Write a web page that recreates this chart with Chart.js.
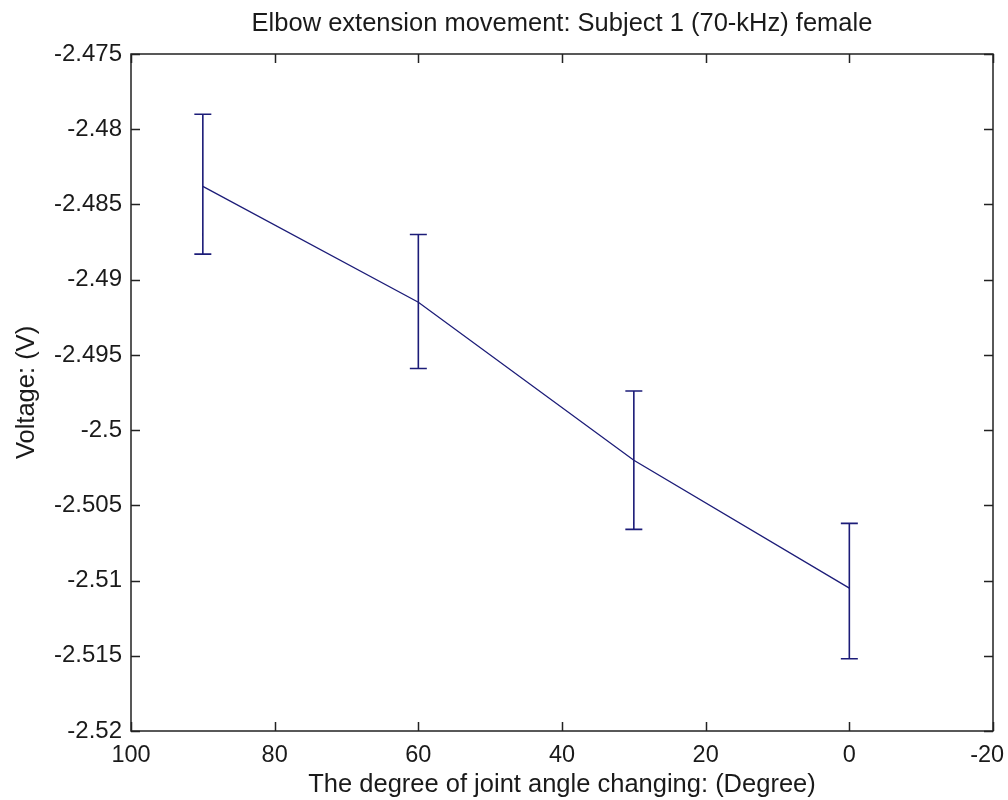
<!DOCTYPE html>
<html>
<head>
<meta charset="utf-8">
<script src="https://cdn.jsdelivr.net/npm/chart.js@4.4.0/dist/chart.umd.min.js"></script>
<style>
  body { margin: 0; background: #fff; }
  #wrap { width: 1008px; height: 800px; }
</style>
</head>
<body>
<div id="wrap"><canvas id="my-graph" width="1008" height="800"></canvas></div>
<script>
// joint angle (degree) and measured voltage
const angles = [90, 60, 30, 0];
const voltage_mean = [-2.4838, -2.4915, -2.5020, -2.5105];
const voltage_low = [-2.4883, -2.4959, -2.5066, -2.5152];
const voltage_high = [-2.4790, -2.4870, -2.4974, -2.5062];

const x_min = -20, x_max = 100, x_step = 20;
const y_min = -2.52, y_max = -2.475, y_step = 0.005;

const line_color = "#1c1c78";
const text_color = "#1a1a1a";
const font_family = "'Liberation Sans', Arial, sans-serif";

// matlab style box with ticks pointing inside
const box_plugin = {
    id: "box",
    afterDraw(chart) {
        const ctx = chart.ctx;
        const a = chart.chartArea;
        const xs = chart.scales.x;
        const ys = chart.scales.y;
        const tl = 9;
        ctx.save();
        ctx.strokeStyle = "#222";
        ctx.lineWidth = 1.5;
        ctx.strokeRect(a.left, a.top, a.right - a.left, a.bottom - a.top);
        ctx.beginPath();
        xs.ticks.forEach(t => {
            const px = Math.round(xs.getPixelForValue(t.value)) + 0.5;
            ctx.moveTo(px, a.bottom); ctx.lineTo(px, a.bottom - tl);
            ctx.moveTo(px, a.top); ctx.lineTo(px, a.top + tl);
        });
        ys.ticks.forEach(t => {
            const py = Math.round(ys.getPixelForValue(t.value)) + 0.5;
            ctx.moveTo(a.left, py); ctx.lineTo(a.left + tl, py);
            ctx.moveTo(a.right, py); ctx.lineTo(a.right - tl, py);
        });
        ctx.stroke();
        ctx.restore();
    }
};

// vertical error bars with caps
const errorbar_plugin = {
    id: "errorbars",
    afterDatasetsDraw(chart) {
        const ctx = chart.ctx;
        const xs = chart.scales.x;
        const ys = chart.scales.y;
        const cap = 8.5;
        ctx.save();
        ctx.strokeStyle = line_color;
        ctx.lineWidth = 1.6;
        ctx.beginPath();
        angles.forEach((ang, i) => {
            const px = xs.getPixelForValue(ang);
            const y_lo = ys.getPixelForValue(voltage_low[i]);
            const y_hi = ys.getPixelForValue(voltage_high[i]);
            ctx.moveTo(px, y_lo); ctx.lineTo(px, y_hi);
            ctx.moveTo(px - cap, y_lo); ctx.lineTo(px + cap, y_lo);
            ctx.moveTo(px - cap, y_hi); ctx.lineTo(px + cap, y_hi);
        });
        ctx.stroke();
        ctx.restore();
    }
};

Chart.defaults.font.family = font_family;
Chart.defaults.color = text_color;

const my_chart = new Chart("my-graph", {
    type: "line",
    data: {
        datasets: [{
            data: angles.map((a, i) => ({ x: a, y: voltage_mean[i] })),
            borderColor: line_color,
            borderWidth: 1.3,
            pointRadius: 0,
            tension: 0,
            fill: false
        }]
    },
    options: {
        responsive: false,
        animation: false,
        layout: { padding: { left: 0, right: 15, top: 0, bottom: 0 } },
        plugins: {
            legend: { display: false },
            tooltip: { enabled: false },
            title: { display: false }
        },
        scales: {
            x: {
                type: "linear",
                reverse: true,
                min: x_min,
                max: x_max,
                grid: { display: false, drawTicks: false },
                border: { display: false },
                ticks: {
                    stepSize: x_step,
                    padding: 10,
                    maxRotation: 0,
                    font: { size: 23.5 },
                    color: text_color,
                    // last label would run off the canvas edge, nudge it left
                    callback: v => v === x_min ? v + "\u2002" : String(v)
                },
                title: {
                    display: true,
                    text: "The degree of joint angle changing: (Degree)",
                    font: { size: 25.5 },
                    color: text_color,
                    padding: { top: 0, bottom: 0 }
                },
                afterFit(scale) {
                    scale.height = 69;
                    scale.paddingLeft = 0;
                    scale.paddingRight = 0;
                }
            },
            // top axis only carries the plot title, centred over the axes
            x_top: {
                type: "linear",
                position: "top",
                reverse: true,
                min: x_min,
                max: x_max,
                grid: { display: false, drawTicks: false },
                border: { display: false },
                ticks: { display: false },
                title: {
                    display: true,
                    text: "Elbow extension movement: Subject 1 (70-kHz) female",
                    font: { size: 25.5 },
                    color: text_color,
                    padding: { top: 9, bottom: 0 }
                },
                afterFit(scale) {
                    scale.height = 54;
                    scale.paddingLeft = 0;
                    scale.paddingRight = 0;
                }
            },
            y: {
                type: "linear",
                min: y_min,
                max: y_max,
                grid: { display: false, drawTicks: false },
                border: { display: false },
                ticks: {
                    stepSize: y_step,
                    padding: 9,
                    font: { size: 24 },
                    color: text_color,
                    callback: v => parseFloat(v.toFixed(3)).toString()
                },
                title: {
                    display: true,
                    text: "Voltage: (V)",
                    font: { size: 25.5 },
                    color: text_color,
                    padding: { top: 12, bottom: 0 }
                },
                afterFit(scale) {
                    scale.width = 131;
                    scale.paddingTop = 0;
                    scale.paddingBottom = 0;
                }
            }
        }
    },
    plugins: [box_plugin, errorbar_plugin]
});
</script>
</body>
</html>
